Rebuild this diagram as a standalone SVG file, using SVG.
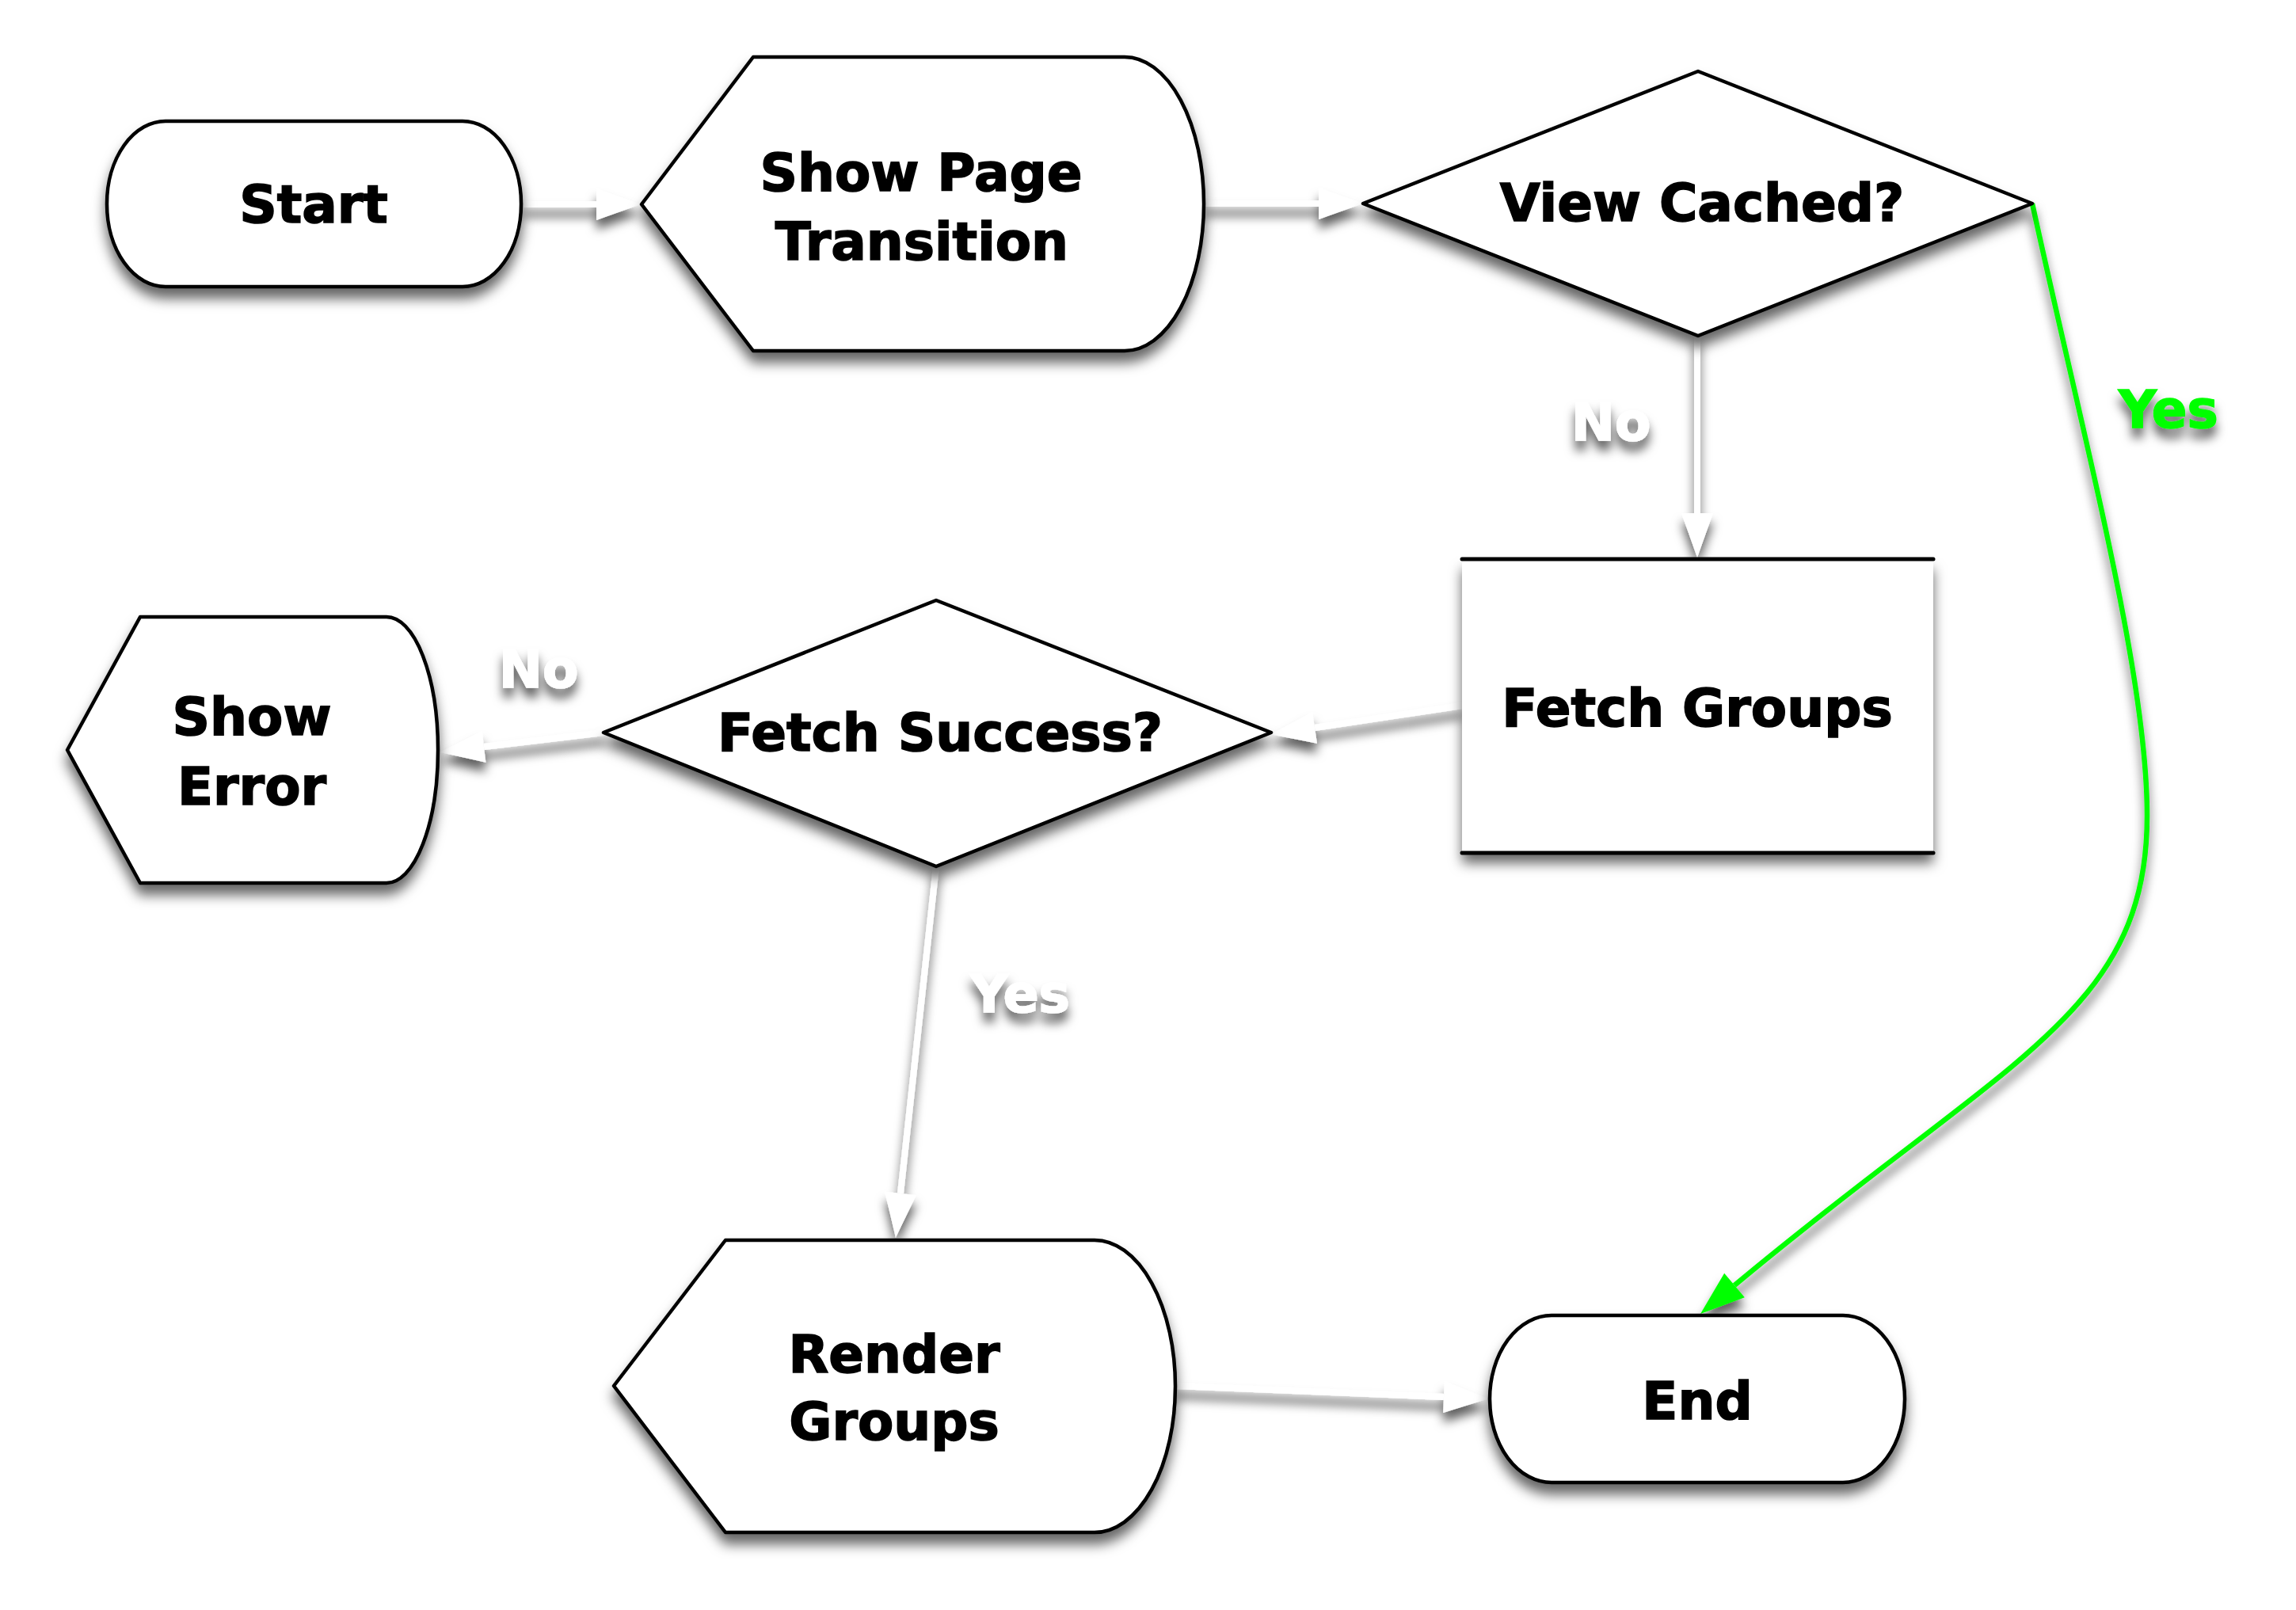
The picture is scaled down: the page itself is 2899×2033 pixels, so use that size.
<svg xmlns="http://www.w3.org/2000/svg" width="2899" height="2033" viewBox="0 0 2899 2033">
<style>
.shape{fill:#ffffff;stroke:#000000;stroke-width:4.5;stroke-linejoin:round}
.edge{fill:#ffffff;stroke:#000000;stroke-width:5;stroke-linecap:round}
.txt{font-family:"DejaVu Sans","Liberation Sans",sans-serif;font-weight:bold;font-size:66px;fill:#000000;stroke:#000000;stroke-width:1.6;text-anchor:middle}
.lbl{font-family:"DejaVu Sans","Liberation Sans",sans-serif;font-weight:bold;font-size:66px;fill:#ffffff;stroke:#ffffff;stroke-width:1.6;text-anchor:middle}
.lblg{fill:#00ff00;stroke:#00ff00}
.conn{fill:none;stroke:#ffffff;stroke-width:8}
.conng{fill:none;stroke:#00ff00;stroke-width:6.5}
</style>
<defs>
<filter id="sh" x="-20%" y="-20%" width="140%" height="150%">
<feDropShadow dx="0" dy="13" stdDeviation="8" flood-color="#000000" flood-opacity="0.6"/>
</filter>
<filter id="shl" x="-30%" y="-40%" width="160%" height="200%">
<feDropShadow dx="0" dy="12" stdDeviation="6.5" flood-color="#000000" flood-opacity="0.62"/>
</filter>
<marker id="aw" markerUnits="userSpaceOnUse" markerWidth="60" markerHeight="44" refX="0" refY="0" orient="auto" overflow="visible">
<path d="M0,-20 L56,0 L0,20 Z" fill="#ffffff"/>
</marker>
<marker id="ag" markerUnits="userSpaceOnUse" markerWidth="60" markerHeight="44" refX="0" refY="0" orient="auto" overflow="visible">
<path d="M0,-20 L56,0 L0,20 Z" fill="#00ff00"/>
</marker>
</defs>
<rect x="0" y="0" width="2899" height="2033" fill="#ffffff"/>

<g id="connectors" filter="url(#shl)">
<path class="conn" d="M661,258 L753,258" marker-end="url(#aw)"/>
<path class="conn" d="M1520,257 L1665,257" marker-end="url(#aw)"/>
<path class="conn" d="M2143,424 L2143,648" marker-end="url(#aw)"/>
<path class="conn" d="M1846,891 L1660,919" marker-end="url(#aw)"/>
<path class="conn" d="M762,925 L611,943" marker-end="url(#aw)"/>
<path class="conn" d="M1182,1094 L1137,1507" marker-end="url(#aw)"/>
<path class="conn" d="M1484,1750 L1823,1764" marker-end="url(#aw)"/>
<path class="conng" d="M2566,257 C2632,560 2711,850 2711,1030 C2711,1280 2534,1335 2190,1623" marker-end="url(#ag)"/>
</g>

<g id="node-start">
<rect class="shape" filter="url(#sh)" x="135" y="153" width="523" height="209" rx="74" ry="104"/>
<text class="txt" x="396" y="281">Start</text>
</g>

<g id="node-show-page-transition">
<path class="shape" filter="url(#sh)" d="M810,258 L951,72 L1420,72 A100,185.5 0 0 1 1420,443 L951,443 Z"/>
<text class="txt" x="1163" y="241">Show Page</text>
<text class="txt" x="1164" y="328">Transition</text>
</g>

<g id="node-view-cached">
<path class="shape" filter="url(#sh)" d="M1721,257 L2144,90 L2566,257 L2144,424 Z"/>
<text class="txt" x="2149" y="279">View Cached?</text>
</g>

<g id="node-fetch-groups">
<rect x="1846" y="706" width="595" height="371" fill="#ffffff" filter="url(#sh)"/>
<line class="edge" x1="1846" y1="706" x2="2441" y2="706"/>
<line class="edge" x1="1846" y1="1077" x2="2441" y2="1077"/>
<text class="txt" x="2143" y="917">Fetch Groups</text>
</g>

<g id="node-fetch-success">
<path class="shape" filter="url(#sh)" d="M762,925 L1182,758 L1605,925 L1182,1094 Z"/>
<text class="txt" x="1187" y="948">Fetch Success?</text>
</g>

<g id="node-show-error">
<path class="shape" filter="url(#sh)" d="M85,947 L177,779 L488,779 A65,168 0 0 1 488,1115 L177,1115 Z"/>
<text class="txt" x="318" y="928">Show</text>
<text class="txt" x="318" y="1016">Error</text>
</g>

<g id="node-render-groups">
<path class="shape" filter="url(#sh)" d="M775,1750 L916,1566 L1382,1566 A102,184.5 0 0 1 1382,1935 L916,1935 Z"/>
<text class="txt" x="1129" y="1733">Render</text>
<text class="txt" x="1129" y="1818">Groups</text>
</g>

<g id="node-end">
<rect class="shape" filter="url(#sh)" x="1881" y="1661" width="524" height="211" rx="78" ry="105.5"/>
<text class="txt" x="2143" y="1792">End</text>
</g>

<g id="labels" filter="url(#shl)">
<text class="lbl" x="2034" y="556">No</text>
<text class="lbl lblg" x="2738" y="540">Yes</text>
<text class="lbl" x="680" y="868">No</text>
<text class="lbl" x="1288" y="1278">Yes</text>
</g>
</svg>
